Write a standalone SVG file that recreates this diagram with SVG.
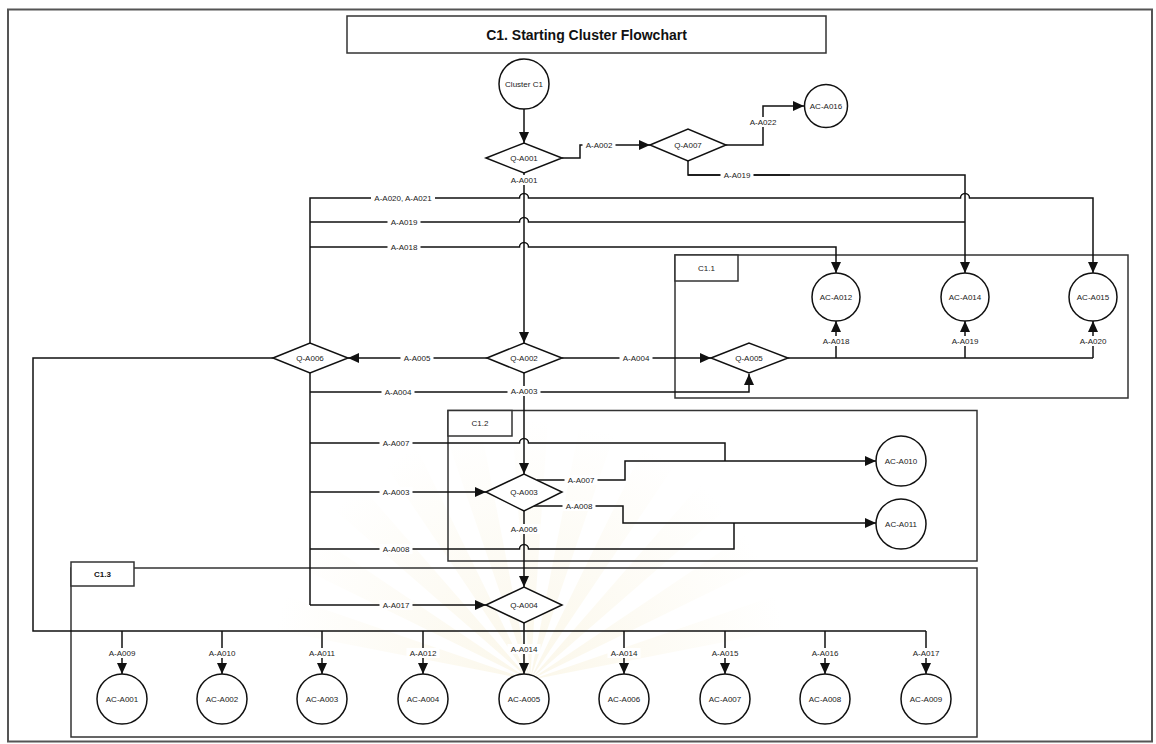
<svg xmlns="http://www.w3.org/2000/svg" xmlns:xlink="http://www.w3.org/1999/xlink" width="1156" height="744" viewBox="0 0 1156 744">
  <style>
    .ln { fill: none; stroke: #111; stroke-width: 1.5; }
    .nd { fill: #fff; stroke: #111; stroke-width: 1.5; }
    .box { fill: none; stroke: #333; stroke-width: 1.5; }
    .tag { fill: #fff; stroke: #333; stroke-width: 1.5; }
    .t { font-family: "Liberation Sans", Arial, sans-serif; font-size: 8px; fill: #222; text-anchor: middle; dominant-baseline: central; }
    .tb { font-weight: bold; fill: #111; }
    .lb rect { fill: #fff; }
  </style>
  <defs>
    <marker id="ah" markerUnits="userSpaceOnUse" viewBox="0 0 11 10" markerWidth="11" markerHeight="10" refX="11" refY="5" orient="auto">
      <path d="M0,0 L11,5 L0,10 Z" fill="#111"/>
    </marker>
    <radialGradient id="glow" gradientUnits="userSpaceOnUse" cx="530" cy="680" r="260">
      <stop offset="0" stop-color="#f1e3b4" stop-opacity="0.28"/>
      <stop offset="1" stop-color="#f1e3b4" stop-opacity="0"/>
    </radialGradient>
    <path id="ray" d="M530,680 L512,420 L548,420 Z"/>
  </defs>

  <rect width="1156" height="744" fill="#fff"/>

  <!-- faint background emblem -->
  <g id="emblem" fill="url(#glow)">
    <use xlink:href="#ray"/>
    <use xlink:href="#ray" transform="rotate(15 530 680)"/>
    <use xlink:href="#ray" transform="rotate(30 530 680)"/>
    <use xlink:href="#ray" transform="rotate(45 530 680)"/>
    <use xlink:href="#ray" transform="rotate(60 530 680)"/>
    <use xlink:href="#ray" transform="rotate(75 530 680)"/>
    <use xlink:href="#ray" transform="rotate(-15 530 680)"/>
    <use xlink:href="#ray" transform="rotate(-30 530 680)"/>
    <use xlink:href="#ray" transform="rotate(-45 530 680)"/>
    <use xlink:href="#ray" transform="rotate(-60 530 680)"/>
    <use xlink:href="#ray" transform="rotate(-75 530 680)"/>
  </g>

  <!-- page frame -->
  <rect x="8" y="9.5" width="1144" height="732" fill="none" stroke="#555" stroke-width="2"/>

  <!-- sub-cluster frames -->
  <g id="C1.1">
    <rect class="box" x="675" y="255" width="453" height="143"/>
    <rect class="tag" x="675" y="255" width="63" height="26"/>
    <text class="t" x="706.5" y="268">C1.1</text>
  </g>
  <g id="C1.2">
    <rect class="box" x="448" y="410.5" width="529" height="150.5"/>
    <rect class="tag" x="448" y="410.5" width="64" height="25.5"/>
    <text class="t" x="480" y="423">C1.2</text>
  </g>
  <g id="C1.3">
    <rect class="box" x="71" y="568" width="906" height="169"/>
    <rect class="tag" x="71" y="562" width="63" height="24"/>
    <text class="t tb" x="102.5" y="574">C1.3</text>
  </g>

  <!-- connectors -->
  <g id="connectors">
    <path class="ln" d="M524,109 V143" marker-end="url(#ah)"/>
    <path class="ln" d="M562,158 H580 V145 H650" marker-end="url(#ah)"/>
    <path class="ln" d="M726,145 H763 V106 H804" marker-end="url(#ah)"/>
    <path class="ln" d="M688,161 V175 H965 V273" marker-end="url(#ah)"/>
    <path class="ln" d="M688,175 H790" stroke-width="2.2"/>
    <path class="ln" d="M524,173 V343" marker-end="url(#ah)"/>

    <!-- Q-A006 upward branches -->
    <path class="ln" d="M310,343 V198 H519.5 A4.5,4.5 0 0 1 528.5,198 H960.5 A4.5,4.5 0 0 1 969.5,198 H1093 V273" marker-end="url(#ah)"/>
    <path class="ln" d="M310,222 H519.5 A4.5,4.5 0 0 1 528.5,222 H965"/>
    <path class="ln" d="M310,247 H519.5 A4.5,4.5 0 0 1 528.5,247 H836 V273" marker-end="url(#ah)"/>

    <!-- Q-A002 -->
    <path class="ln" d="M487,358 H348" marker-end="url(#ah)"/>
    <path class="ln" d="M562,358 H711" marker-end="url(#ah)"/>
    <path class="ln" d="M524,373 V474" marker-end="url(#ah)"/>

    <!-- Q-A005 outputs -->
    <path class="ln" d="M788,358 H1093"/>
    <path class="ln" d="M836,358 V321" marker-end="url(#ah)"/>
    <path class="ln" d="M965,358 V321" marker-end="url(#ah)"/>
    <path class="ln" d="M1093,358 V321" marker-end="url(#ah)"/>

    <!-- Q-A006 downward branches -->
    <path class="ln" d="M310,373 V605"/>
    <path class="ln" d="M310,392 H749 V374" marker-end="url(#ah)"/>
    <path class="ln" d="M310,443 H519.5 A4.5,4.5 0 0 1 528.5,443 H725 V461"/>
    <path class="ln" d="M310,492 H486" marker-end="url(#ah)"/>
    <path class="ln" d="M310,549 H519.5 A4.5,4.5 0 0 1 528.5,549 H734 V523"/>
    <path class="ln" d="M310,605 H486" marker-end="url(#ah)"/>

    <!-- Q-A003 -->
    <path class="ln" d="M537,480 H625 V461 H876" marker-end="url(#ah)"/>
    <path class="ln" d="M533,506 H623 V523 H876" marker-end="url(#ah)"/>
    <path class="ln" d="M524,511 V587" marker-end="url(#ah)"/>

    <!-- bus to C1.3 actions -->
    <path class="ln" d="M273,358 H33 V631 H926"/>
    <path class="ln" d="M122,631 V674" marker-end="url(#ah)"/>
    <path class="ln" d="M222,631 V674" marker-end="url(#ah)"/>
    <path class="ln" d="M322,631 V674" marker-end="url(#ah)"/>
    <path class="ln" d="M423,631 V674" marker-end="url(#ah)"/>
    <path class="ln" d="M524,623 V674" marker-end="url(#ah)"/>
    <path class="ln" d="M624,631 V674" marker-end="url(#ah)"/>
    <path class="ln" d="M725,631 V674" marker-end="url(#ah)"/>
    <path class="ln" d="M825,631 V674" marker-end="url(#ah)"/>
    <path class="ln" d="M926,631 V674" marker-end="url(#ah)"/>

    <!-- connector labels -->
    <g class="lb">
      <rect x="507.5" y="175" width="33" height="10"/><text class="t" x="524" y="180">A-A001</text>
      <rect x="582.5" y="140" width="33" height="10"/><text class="t" x="599" y="145">A-A002</text>
      <rect x="746.5" y="117" width="33" height="10"/><text class="t" x="763" y="122">A-A022</text>
      <rect x="720.5" y="170" width="33" height="10"/><text class="t" x="737" y="175">A-A019</text>
      <rect x="371" y="193" width="64" height="10"/><text class="t" x="403" y="198">A-A020, A-A021</text>
      <rect x="387.5" y="217" width="33" height="10"/><text class="t" x="404" y="222">A-A019</text>
      <rect x="387.5" y="242" width="33" height="10"/><text class="t" x="404" y="247">A-A018</text>
      <rect x="400.5" y="353" width="33" height="10"/><text class="t" x="417" y="358">A-A005</text>
      <rect x="619.5" y="353" width="33" height="10"/><text class="t" x="636" y="358">A-A004</text>
      <rect x="819.5" y="336" width="33" height="10"/><text class="t" x="836" y="341">A-A018</text>
      <rect x="948.5" y="336" width="33" height="10"/><text class="t" x="965" y="341">A-A019</text>
      <rect x="1076.5" y="336" width="33" height="10"/><text class="t" x="1093" y="341">A-A020</text>
      <rect x="381.5" y="387" width="33" height="10"/><text class="t" x="398" y="392">A-A004</text>
      <rect x="507.5" y="386" width="33" height="10"/><text class="t" x="524" y="391">A-A003</text>
      <rect x="379.5" y="438" width="33" height="10"/><text class="t" x="396" y="443">A-A007</text>
      <rect x="379.5" y="487" width="33" height="10"/><text class="t" x="396" y="492">A-A003</text>
      <rect x="564.5" y="475" width="33" height="10"/><text class="t" x="581" y="480">A-A007</text>
      <rect x="562.5" y="501" width="33" height="10"/><text class="t" x="579" y="506">A-A008</text>
      <rect x="507.5" y="524" width="33" height="10"/><text class="t" x="524" y="529">A-A006</text>
      <rect x="379.5" y="544" width="33" height="10"/><text class="t" x="396" y="549">A-A008</text>
      <rect x="379.5" y="600" width="33" height="10"/><text class="t" x="396" y="605">A-A017</text>
      <rect x="105.5" y="648" width="33" height="10"/><text class="t" x="122" y="653">A-A009</text>
      <rect x="205.5" y="648" width="33" height="10"/><text class="t" x="222" y="653">A-A010</text>
      <rect x="305.5" y="648" width="33" height="10"/><text class="t" x="322" y="653">A-A011</text>
      <rect x="406.5" y="648" width="33" height="10"/><text class="t" x="423" y="653">A-A012</text>
      <rect x="507.5" y="644" width="33" height="10"/><text class="t" x="524" y="649">A-A014</text>
      <rect x="607.5" y="648" width="33" height="10"/><text class="t" x="624" y="653">A-A014</text>
      <rect x="708.5" y="648" width="33" height="10"/><text class="t" x="725" y="653">A-A015</text>
      <rect x="808.5" y="648" width="33" height="10"/><text class="t" x="825" y="653">A-A016</text>
      <rect x="909.5" y="648" width="33" height="10"/><text class="t" x="926" y="653">A-A017</text>
    </g>
  </g>

  <!-- title -->
  <g id="title">
    <rect x="347" y="16" width="479" height="37" fill="#fff" stroke="#333" stroke-width="1.5"/>
    <text class="t tb" x="586.5" y="35" style="font-size:14px">C1. Starting Cluster Flowchart</text>
  </g>

  <!-- start and decision nodes -->
  <g id="Cluster-C1"><circle class="nd" cx="524" cy="84" r="25"/><text class="t" x="524" y="84">Cluster C1</text></g>
  <g id="Q-A001"><polygon class="nd" points="486,158 524,143 562,158 524,173"/><text class="t" x="524" y="158">Q-A001</text></g>
  <g id="Q-A007"><polygon class="nd" points="650,145 688,129 726,145 688,161"/><text class="t" x="688" y="145">Q-A007</text></g>
  <g id="Q-A002"><polygon class="nd" points="487,358 524,343 562,358 524,373"/><text class="t" x="524" y="358">Q-A002</text></g>
  <g id="Q-A006"><polygon class="nd" points="273,358 310,343 348,358 310,373"/><text class="t" x="310" y="358">Q-A006</text></g>
  <g id="Q-A005"><polygon class="nd" points="711,358 749,343 788,358 749,373"/><text class="t" x="749" y="358">Q-A005</text></g>
  <g id="Q-A003"><polygon class="nd" points="486,492 524,474 562,492 524,511"/><text class="t" x="524" y="492">Q-A003</text></g>
  <g id="Q-A004"><polygon class="nd" points="486,605 524,587 562,605 524,623"/><text class="t" x="524" y="605">Q-A004</text></g>

  <!-- action nodes -->
  <g id="AC-A016"><circle class="nd" cx="826" cy="106" r="21.5"/><text class="t" x="826" y="106">AC-A016</text></g>
  <g id="AC-A012"><circle class="nd" cx="836" cy="297" r="24"/><text class="t" x="836" y="297">AC-A012</text></g>
  <g id="AC-A014"><circle class="nd" cx="965" cy="297" r="24"/><text class="t" x="965" y="297">AC-A014</text></g>
  <g id="AC-A015"><circle class="nd" cx="1093" cy="297" r="24"/><text class="t" x="1093" y="297">AC-A015</text></g>
  <g id="AC-A010"><circle class="nd" cx="901" cy="461" r="25"/><text class="t" x="901" y="461">AC-A010</text></g>
  <g id="AC-A011"><circle class="nd" cx="901" cy="524" r="25"/><text class="t" x="901" y="524">AC-A011</text></g>
  <g id="AC-A001"><circle class="nd" cx="122" cy="699" r="25"/><text class="t" x="122" y="699">AC-A001</text></g>
  <g id="AC-A002"><circle class="nd" cx="222" cy="699" r="25"/><text class="t" x="222" y="699">AC-A002</text></g>
  <g id="AC-A003"><circle class="nd" cx="322" cy="699" r="25"/><text class="t" x="322" y="699">AC-A003</text></g>
  <g id="AC-A004"><circle class="nd" cx="423" cy="699" r="25"/><text class="t" x="423" y="699">AC-A004</text></g>
  <g id="AC-A005"><circle class="nd" cx="524" cy="699" r="25"/><text class="t" x="524" y="699">AC-A005</text></g>
  <g id="AC-A006"><circle class="nd" cx="624" cy="699" r="25"/><text class="t" x="624" y="699">AC-A006</text></g>
  <g id="AC-A007"><circle class="nd" cx="725" cy="699" r="25"/><text class="t" x="725" y="699">AC-A007</text></g>
  <g id="AC-A008"><circle class="nd" cx="825" cy="699" r="25"/><text class="t" x="825" y="699">AC-A008</text></g>
  <g id="AC-A009"><circle class="nd" cx="926" cy="699" r="25"/><text class="t" x="926" y="699">AC-A009</text></g>
</svg>
